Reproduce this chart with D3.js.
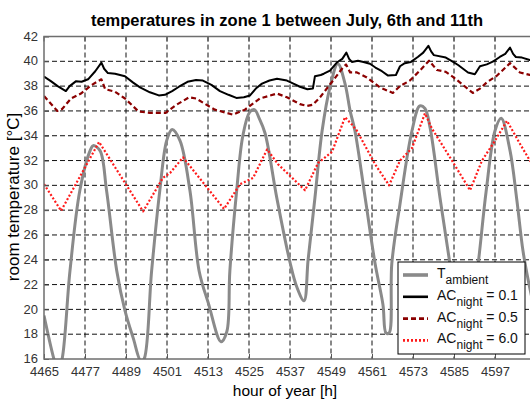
<!DOCTYPE html>
<html><head><meta charset="utf-8">
<script src="https://cdn.jsdelivr.net/npm/d3@7"></script>
<style>body{margin:0;background:#fff}svg{display:block;font-family:"Liberation Sans",Arial,sans-serif}</style>
</head><body><svg id="c" width="530" height="403"></svg>
<script>
const title = "temperatures in zone 1 between July, 6th and 11th";
const xLabel = "hour of year [h]";
const yLabel = "room temperature [°C]";
const xTicks = [4465,4477,4489,4501,4513,4525,4537,4549,4561,4573,4585,4597,4609];
const xTickLabels = ["4465","4477","4489","4501","4513","4525","4537","4549","4561","4573","4585","4597",""];
const yTicks = [16,18,20,22,24,26,28,30,32,34,36,38,40,42];

const ambient = [[4465,19.5],[4467.9,16.0],[4469.1,15.0],[4470.3,16.0],[4472.6,23.1],[4475.5,29.6],[4478.5,32.8],[4479.4,33.2],[4481.4,32.8],[4483.3,29.6],[4486.3,23.1],[4488.7,19.9],[4491.1,17.7],[4493.4,15.8],[4494.3,16.0],[4496.5,23.1],[4498.9,29.6],[4500.9,33.6],[4502.5,34.5],[4504.8,33.6],[4507.7,29.6],[4510.4,23.1],[4513.1,20.5],[4516.8,17.4],[4518.5,18.2],[4519.4,23.1],[4521.4,29.6],[4523.2,34.0],[4525.2,35.9],[4526.6,36.1],[4528.0,35.4],[4529.7,34.2],[4533.2,28.9],[4537.0,23.8],[4539.0,21.8],[4541.1,20.7],[4542.3,24.0],[4544.3,29.0],[4546.4,34.4],[4548.7,37.9],[4551.0,39.8],[4553.1,38.2],[4554.6,36.0],[4556.0,34.4],[4559.0,29.0],[4561.9,23.7],[4564.2,20.4],[4565.1,18.1],[4566.0,18.1],[4566.8,23.7],[4569.2,28.5],[4572.7,34.4],[4575.0,36.4],[4576.5,36.2],[4578.0,34.65],[4580.9,29.0],[4583.8,23.7],[4585.6,20.0],[4587.6,17.0],[4589.7,19.0],[4592.1,23.75],[4594.4,29.5],[4597.0,34.4],[4598.8,35.4],[4601.4,32.8],[4603.4,28.8],[4605.2,24.7],[4607.2,21.7],[4609,19.5]];

const ac01 = [[4465,38.77],[4467,38.4],[4469,38.0],[4471.4,37.6],[4472.5,38.0],[4474.4,38.4],[4476,38.35],[4477.9,38.55],[4480,39.2],[4481.8,39.9],[4482.6,39.4],[4483.7,39.05],[4485.8,39.0],[4488.7,38.8],[4491,38.3],[4493.1,37.9],[4496,37.5],[4498.6,37.25],[4500.4,37.3],[4502.5,37.6],[4504.5,37.95],[4507,38.35],[4509.5,38.5],[4511.5,38.45],[4514,38.1],[4516.5,37.6],[4519,37.3],[4521.3,37.05],[4523.5,37.1],[4525.3,37.25],[4527,37.8],[4528.8,38.2],[4531,38.45],[4533.2,38.6],[4536.1,38.45],[4538,38.2],[4539.9,37.95],[4542.1,37.75],[4543.7,37.8],[4544.3,38.8],[4546.0,38.9],[4546.9,39.0],[4548.7,39.25],[4550.7,39.9],[4552.3,40.2],[4553.5,40.7],[4554.3,40.2],[4555.1,39.95],[4556.9,40.05],[4558.5,39.95],[4560.4,39.8],[4562,39.5],[4563.9,39.2],[4565.7,38.85],[4568.0,38.9],[4569.2,39.6],[4570.6,39.85],[4572.4,39.95],[4574.4,40.35],[4576.0,40.7],[4577.5,41.25],[4578.3,40.8],[4579.1,40.5],[4582.6,40.3],[4584.5,40.0],[4586.2,39.7],[4589.1,39.1],[4591.1,38.95],[4592.6,39.6],[4594.6,39.75],[4596.5,40.0],[4598.4,40.35],[4600,40.6],[4601.4,41.1],[4602.3,40.6],[4603.1,40.35],[4604.9,40.3],[4607.2,40.1],[4609,40.0]];

const ac05 = [[4465,37.2],[4468.9,36.0],[4470.3,36.15],[4472.9,37.0],[4475.8,37.4],[4479.0,38.1],[4481.8,38.55],[4482.9,37.75],[4485.8,37.55],[4488.7,37.0],[4492.7,35.95],[4496.0,35.85],[4500.6,35.85],[4503.5,36.45],[4507.5,37.1],[4509.5,37.0],[4515.0,36.1],[4520.3,35.7],[4523.8,36.1],[4528.2,37.0],[4533.2,37.4],[4536.1,37.1],[4539.9,36.55],[4542.0,36.4],[4543.7,36.5],[4545.8,37.1],[4549.6,38.45],[4552.5,39.5],[4553.4,39.75],[4554.6,39.1],[4556.6,39.1],[4559.5,38.7],[4563.3,37.9],[4567.1,37.45],[4569.2,38.0],[4572.1,38.45],[4575.0,39.25],[4577.7,40.05],[4580.0,39.3],[4582.6,39.15],[4584.7,38.75],[4590.5,37.45],[4592.6,37.8],[4594.6,38.3],[4597.6,38.85],[4601.4,39.85],[4604.3,39.1],[4607.2,38.9],[4609,38.85]];

const ac60 = [[4465,30.1],[4470.0,27.95],[4481.1,33.5],[4494.0,27.9],[4499.8,30.6],[4501.9,31.0],[4505.7,32.25],[4517.7,28.1],[4522.4,30.1],[4526.2,30.6],[4530.3,32.9],[4533.5,31.7],[4541.4,29.6],[4545.2,31.8],[4549.3,32.7],[4553.1,35.5],[4555.1,34.9],[4556.6,34.4],[4561.9,31.7],[4566.0,30.0],[4569.2,32.0],[4572.7,33.0],[4576.5,35.8],[4578.5,34.6],[4584.4,32.0],[4589.7,29.6],[4593.2,32.0],[4597.0,33.6],[4600.5,35.2],[4604.3,33.35],[4607.2,32.0],[4609,31.5]];

const legendItems = [
  {main:"T", sub:"ambient", rest:"", color:"#8a8a8a", width:3, dash:null},
  {main:"AC", sub:"night", rest:" = 0.1", color:"#000000", width:2, dash:null},
  {main:"AC", sub:"night", rest:" = 0.5", color:"#8b0000", width:2.2, dash:"5,3"},
  {main:"AC", sub:"night", rest:" = 6.0", color:"#ff1a1a", width:2.2, dash:"2,2"}
];
const seriesData = [ambient, ac01, ac05, ac60];

const svg = d3.select("#c");
const L = 44, R = 536, T = 36.5, B = 359;
const x = d3.scaleLinear().domain([4465, 4609]).range([L, R]);
const y = d3.scaleLinear().domain([16, 42]).range([B, T]);

svg.append("defs").append("clipPath").attr("id","clip")
  .append("rect").attr("x",L).attr("y",T).attr("width",R-L).attr("height",B-T);

// grid
const grid = svg.append("g");
grid.selectAll("line.gx").data(xTicks.slice(1,-1)).join("line")
  .attr("x1",d=>x(d)).attr("x2",d=>x(d)).attr("y1",T).attr("y2",B)
  .attr("stroke","#111").attr("stroke-width",1).attr("stroke-dasharray","5,3");
grid.selectAll("line.gy").data(yTicks.slice(1,-1)).join("line")
  .attr("y1",d=>y(d)).attr("y2",d=>y(d)).attr("x1",L).attr("x2",R)
  .attr("stroke","#111").attr("stroke-width",1).attr("stroke-dasharray","5,3");

// lines
const plot = svg.append("g").attr("clip-path","url(#clip)");
seriesData.forEach((s,i)=>{
  const it = legendItems[i];
  const ln = d3.line().x(d=>x(d[0])).y(d=>y(d[1]));
  if (i===0) ln.curve(d3.curveCatmullRom.alpha(0.5));
  plot.append("path").attr("d", ln(s)).attr("fill","none")
    .attr("stroke", it.color).attr("stroke-width", it.width)
    .attr("stroke-dasharray", it.dash).attr("stroke-linejoin","round");
});

// axes
const xAxis = d3.axisBottom(x).tickValues(xTicks).tickSize(-5).tickPadding(8).tickFormat((d,i)=>xTickLabels[i]);
const yAxis = d3.axisLeft(y).tickValues(yTicks).tickSize(-5).tickPadding(6);
const gx = svg.append("g").attr("transform",`translate(0,${B})`).call(xAxis);
const gy = svg.append("g").attr("transform",`translate(${L},0)`).call(yAxis);
[gx,gy].forEach(g=>{
  g.select(".domain").remove();
  g.selectAll(".tick line").attr("stroke","#555");
  g.selectAll(".tick text").attr("fill","#333").style("font-size","13px").style("font-family","'Liberation Sans',Arial,sans-serif");
});
gx.selectAll(".tick text").attr("dy","0.68em");
gy.selectAll(".tick text").attr("dy","0.28em");
// top ticks
svg.append("g").selectAll("line").data(xTicks).join("line")
  .attr("x1",d=>x(d)).attr("x2",d=>x(d)).attr("y1",T).attr("y2",T+5).attr("stroke","#555");
svg.append("rect").attr("x",L).attr("y",T).attr("width",R-L).attr("height",B-T)
  .attr("fill","none").attr("stroke","#6e6e6e").attr("stroke-width",1.5);

// title & labels
svg.append("text").attr("x",287).attr("y",26).attr("text-anchor","middle")
  .style("font-size","16.5px").style("font-weight","bold").attr("fill","#000").text(title);
svg.append("text").attr("x",285).attr("y",396).attr("text-anchor","middle")
  .style("font-size","15.5px").attr("fill","#000").text(xLabel);
svg.append("text").attr("transform","translate(19,197) rotate(-90)").attr("text-anchor","middle")
  .style("font-size","17px").attr("fill","#000").text(yLabel);

// legend
const lg = svg.append("g");
lg.append("rect").attr("x",398).attr("y",262).attr("width",127).attr("height",92)
  .attr("fill","#fff").attr("stroke","#000").attr("stroke-width",1);
legendItems.forEach((it,i)=>{
  const ly = 275 + i*21.8;
  lg.append("line").attr("x1",403).attr("x2",428).attr("y1",ly).attr("y2",ly)
    .attr("stroke",it.color).attr("stroke-width",it.width+0.6).attr("stroke-dasharray",it.dash);
  const t = lg.append("text").attr("x",437).attr("y",ly+3).style("font-size","14px").attr("fill","#111");
  t.append("tspan").text(it.main);
  t.append("tspan").attr("dy",6).style("font-size","12px").text(it.sub);
  if (it.rest) t.append("tspan").attr("dy",-6).text(it.rest);
});
</script></body></html>
